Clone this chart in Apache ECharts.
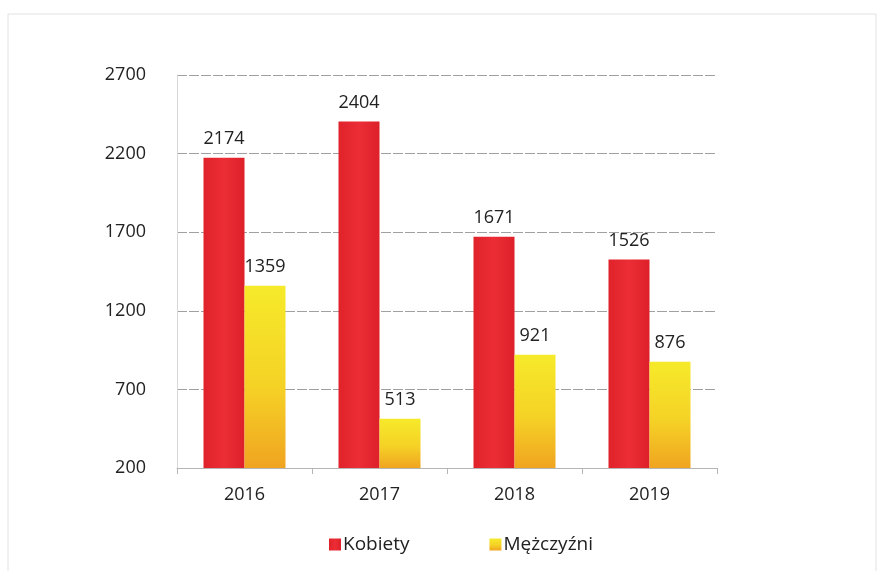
<!DOCTYPE html>
<html>
<head>
<meta charset="utf-8">
<script src="https://cdn.jsdelivr.net/npm/echarts@6/dist/echarts.min.js"></script>
<style>
  html, body { margin: 0; padding: 0; background: #fff; }
  #main { width: 883px; height: 571px; }
</style>
</head>
<body>
<div id="main"></div>
<script>
// lata i wartości
const years = ['2016', '2017', '2018', '2019'];
const kobiety = [2174, 2404, 1671, 1526];
const mezczyzni = [1359, 513, 921, 876];
const yTicks = { min: 200, max: 2700, interval: 500 };

const myChart = echarts.init(document.getElementById('main'));

const option = {
  backgroundColor: '#fff',
  textStyle: { fontFamily: 'Open Sans, Noto Sans, sans-serif' },
  // ramka wokół wykresu
  graphic: [
    {
      type: 'rect',
      shape: { x: 8, y: 14, width: 868, height: 560 },
      style: { fill: 'none', stroke: '#e2e2e2', lineWidth: 1 },
      silent: true,
    },
  ],
  grid: { left: 177, right: 166, top: 75, bottom: 103 },
  legend: {
    bottom: 12,
    left: 324,
    itemGap: 80,
    itemWidth: 12,
    itemHeight: 12,
    icon: 'rect',
    textStyle: { fontSize: 19, color: '#222', padding: [0, 0, 0, -3] },
    data: ['Kobiety', 'Mężczyźni'],
  },
  xAxis: {
    type: 'category',
    data: years,
    axisLine: { lineStyle: { color: '#b5b5b5', width: 1 } },
    axisTick: { show: true, length: 6, lineStyle: { color: '#b5b5b5' } },
    axisLabel: { fontSize: 18, color: '#222', margin: 18 },
  },
  yAxis: {
    type: 'value',
    min: yTicks.min,
    max: yTicks.max,
    interval: yTicks.interval,
    axisLine: { show: true, lineStyle: { color: '#d8d8d8' } },
    axisLabel: {
      fontSize: 18,
      color: '#222',
      margin: 31,
      formatter: (v) => String(v),
    },
    splitLine: { lineStyle: { color: '#a0a0a0', type: [10, 2] } },
  },
  series: [
    {
      name: 'Kobiety',
      type: 'bar',
      data: kobiety,
      barWidth: 41,
      barGap: '0%',
      itemStyle: {
        color: new echarts.graphic.LinearGradient(0, 0, 1, 0, [
          { offset: 0, color: '#e0222b' },
          { offset: 0.5, color: '#ec2d36' },
          { offset: 1, color: '#dd2029' },
        ]),
      },
      label: { show: true, position: 'top', distance: 10, fontSize: 18, color: '#222' },
    },
    {
      name: 'Mężczyźni',
      type: 'bar',
      data: mezczyzni,
      barWidth: 41,
      itemStyle: {
        color: new echarts.graphic.LinearGradient(0, 0, 0, 1, [
          { offset: 0, color: '#f6ea2a' },
          { offset: 0.55, color: '#f5d226' },
          { offset: 1, color: '#f0a421' },
        ]),
      },
      label: { show: true, position: 'top', distance: 10, fontSize: 18, color: '#222' },
    },
  ],
};

myChart.setOption(option);
window.addEventListener('resize', () => {
  myChart.resize();
});
</script>
</body>
</html>
